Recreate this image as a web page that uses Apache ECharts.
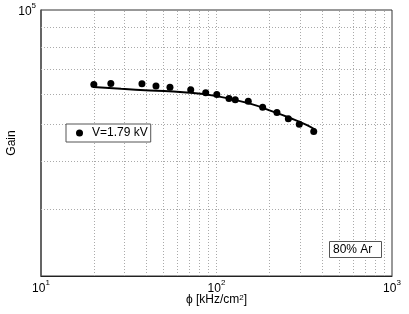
<!DOCTYPE html>
<html><head><meta charset="utf-8">
<script src="https://cdn.jsdelivr.net/npm/echarts@6/dist/echarts.min.js"></script>
<style>html,body{margin:0;padding:0;background:#fff}#c{width:409px;height:314px}</style>
</head><body><div id="c"></div>
<script>
const seriesName = 'V=1.79 kV';
const phi = [20, 25, 37.6, 45.2, 54.3, 71.3, 86.8, 100.4, 117.8, 127.9, 151.7, 183.2, 221, 256.6, 296.3, 358.2];
const gain = [63760, 64140, 63990, 63100, 62700, 61680, 60600, 59960, 58560, 58080, 57560, 55480, 53810, 51800, 50120, 47940];
const fitPhi = [19.8, 28.6, 41.8, 64.7, 100.3, 155.2, 209.9, 262.3, 327.9, 364.1];
const fitGain = [62720, 62070, 61470, 60840, 59390, 56750, 54060, 52040, 49820, 48470];
const xGrid = [20,30,40,50,60,70,80,90,100,200,300,400,500,600,700,800,900];
const yGrid = [30000,40000,50000,60000,70000,80000,90000];
const xTickExp = [1, 2, 3];
const yTickExp = [5];
const annotation = '80% Ar';
const xName = 'ϕ [kHz/cm{s|2}]';
const yName = 'Gain';

const FONT = 'Liberation Sans, Arial, Helvetica, sans-serif';
const rich = {
  b: {fontSize: 12, fontFamily: FONT, color: '#000', lineHeight: 16, verticalAlign: 'bottom'},
  s: {fontSize: 8, fontFamily: FONT, color: '#000', lineHeight: 10, verticalAlign: 'top'}
};
function powLabel(exps) {
  return function (v) {
    const e = Math.round(Math.log10(v));
    if (Math.abs(Math.log10(v) - e) < 1e-6 && exps.indexOf(e) >= 0) return '{b|10}{s|' + e + '}';
    return '';
  };
}
const chart = echarts.init(document.getElementById('c'), null, {renderer: 'canvas'});
const gridLines = xGrid.map(v => ({xAxis: v})).concat(yGrid.map(v => ({yAxis: v})));
chart.setOption({
  animation: false,
  backgroundColor: '#fff',
  grid: {left: 41, right: 17, top: 10, bottom: 38, containLabel: false, outerBoundsMode: 'none',
         show: true, borderColor: '#333', borderWidth: 1, backgroundColor: 'transparent'},
  title: {
    text: annotation, left: 329, top: 241,
    padding: [3, 9, 2, 4],
    borderColor: '#555', borderWidth: 1, backgroundColor: '#fff',
    textStyle: {fontFamily: FONT, fontSize: 12, fontWeight: 'normal', color: '#000'}
  },
  legend: {
    data: [seriesName], left: 66, top: 124,
    padding: [3, 3, 3, 10],
    itemWidth: 7, itemHeight: 7,
    icon: 'circle',
    borderColor: '#555', borderWidth: 1, backgroundColor: '#fff',
    itemStyle: {color: '#000', opacity: 1},
    textStyle: {fontFamily: FONT, fontSize: 12, color: '#000', padding: [0, 0, 0, 4]}
  },
  xAxis: {
    type: 'log', logBase: 10, min: 10, max: 1000, splitNumber: 2,
    name: xName, nameLocation: 'middle', nameGap: 18, nameMoveOverlap: false,
    nameTextStyle: {fontFamily: FONT, fontSize: 12, color: '#000', rich: rich},
    axisLine: {show: true, lineStyle: {color: '#222', width: 1}},
    axisTick: {show: false},
    splitLine: {show: false},
    axisLabel: {formatter: powLabel(xTickExp), rich: rich, margin: 3, showMinLabel: true, showMaxLabel: true}
  },
  yAxis: {
    type: 'log', logBase: 10, min: 20000, max: 100000, splitNumber: 1,
    name: yName, nameLocation: 'middle', nameGap: 23, nameMoveOverlap: false,
    nameTextStyle: {fontFamily: FONT, fontSize: 12, color: '#000'},
    axisLine: {show: true, lineStyle: {color: '#555', width: 1.5}},
    axisTick: {show: false},
    splitLine: {show: false},
    axisLabel: {formatter: powLabel(yTickExp), rich: rich, margin: 5, showMinLabel: false, showMaxLabel: true}
  },
  series: [
    {
      name: 'grid', type: 'line', data: [], z: 1, silent: true,
      markLine: {
        z: 1, silent: true, symbol: ['none', 'none'], animation: false,
        label: {show: false},
        lineStyle: {color: '#aaa', type: [1, 2], width: 1},
        emphasis: {disabled: true},
        data: gridLines
      }
    },
    {
      name: 'fit', type: 'line', smooth: true, showSymbol: false, z: 3,
      lineStyle: {color: '#000', width: 2},
      data: fitPhi.map((x, i) => [x, fitGain[i]])
    },
    {
      name: seriesName, type: 'scatter', symbol: 'circle', symbolSize: 7, z: 4,
      itemStyle: {color: '#000', opacity: 1},
      data: phi.map((x, i) => [x, gain[i]])
    }
  ]
});
</script>
</body></html>
